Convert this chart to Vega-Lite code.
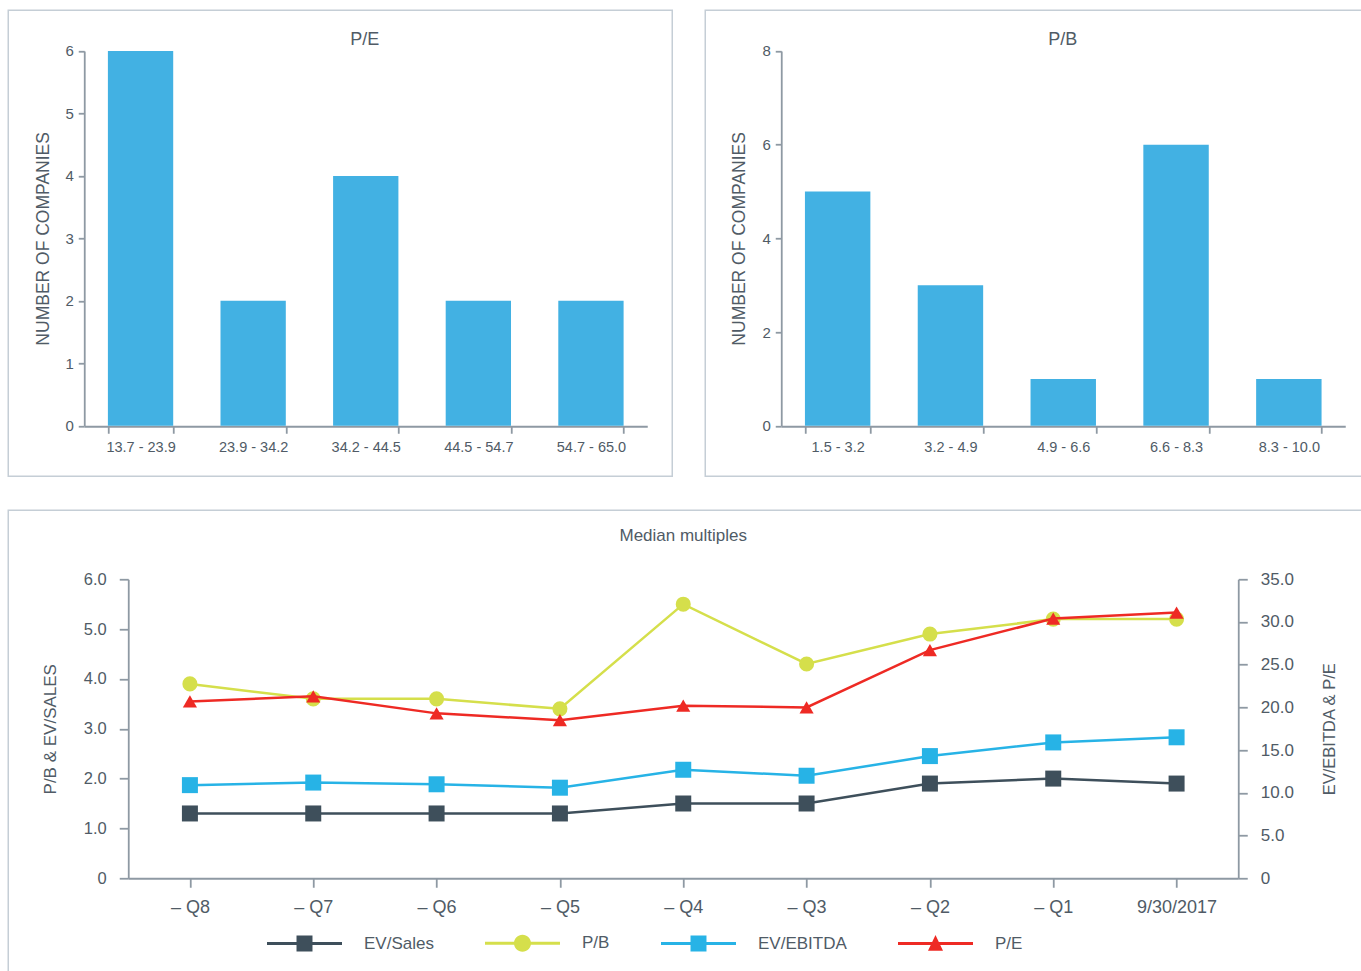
{
  "$schema": "https://vega.github.io/schema/vega-lite/v6.json",
  "padding": {"left": 7.25, "top": 9.25, "right": -3, "bottom": -3},
  "background": "white",
  "spacing": 32,
  "config": {
    "font": "Liberation Sans",
    "view": {"stroke": "#c5ced6", "strokeWidth": 1.5},
    "axis": {
      "domainColor": "#8e99a3", "tickColor": "#8e99a3", "domainWidth": 1.8, "tickWidth": 1.8,
      "labelColor": "#505b66", "titleColor": "#505b66", "titleFontWeight": "normal",
      "grid": false, "labelFont": "Liberation Sans", "titleFont": "Liberation Sans"
    },
    "title": {"font": "Liberation Sans", "fontWeight": "normal", "color": "#505b66", "baseline": "bottom", "anchor": "middle", "frame": "group"},
    "legend": {
      "orient": "none", "legendX": 258.75, "legendY": 895, "direction": "horizontal", "title": null,
      "symbolSize": 5625, "symbolStrokeWidth": 0, "symbolOpacity": 1,
      "labelFontSize": 17, "labelColor": "#505b66", "labelFont": "Liberation Sans",
      "labelOffset": 22, "columnPadding": 51, "labelLimit": 0
    }
  },
  "datasets": {
    "pe": [
      {"range": "13.7 - 23.9", "count": 6},
      {"range": "23.9 - 34.2", "count": 2},
      {"range": "34.2 - 44.5", "count": 4},
      {"range": "44.5 - 54.7", "count": 2},
      {"range": "54.7 - 65.0", "count": 2}
    ],
    "pb": [
      {"range": "1.5 - 3.2", "count": 5},
      {"range": "3.2 - 4.9", "count": 3},
      {"range": "4.9 - 6.6", "count": 1},
      {"range": "6.6 - 8.3", "count": 6},
      {"range": "8.3 - 10.0", "count": 1}
    ],
    "multiples": [
      {"quarter": "– Q8", "series": "EV/Sales", "value": 1.3},
      {"quarter": "– Q7", "series": "EV/Sales", "value": 1.3},
      {"quarter": "– Q6", "series": "EV/Sales", "value": 1.3},
      {"quarter": "– Q5", "series": "EV/Sales", "value": 1.3},
      {"quarter": "– Q4", "series": "EV/Sales", "value": 1.5},
      {"quarter": "– Q3", "series": "EV/Sales", "value": 1.5},
      {"quarter": "– Q2", "series": "EV/Sales", "value": 1.9},
      {"quarter": "– Q1", "series": "EV/Sales", "value": 2.0},
      {"quarter": "9/30/2017", "series": "EV/Sales", "value": 1.9},
      {"quarter": "– Q8", "series": "P/B", "value": 3.9},
      {"quarter": "– Q7", "series": "P/B", "value": 3.6},
      {"quarter": "– Q6", "series": "P/B", "value": 3.6},
      {"quarter": "– Q5", "series": "P/B", "value": 3.4},
      {"quarter": "– Q4", "series": "P/B", "value": 5.5},
      {"quarter": "– Q3", "series": "P/B", "value": 4.3},
      {"quarter": "– Q2", "series": "P/B", "value": 4.9},
      {"quarter": "– Q1", "series": "P/B", "value": 5.2},
      {"quarter": "9/30/2017", "series": "P/B", "value": 5.2},
      {"quarter": "– Q8", "series": "EV/EBITDA", "value": 10.9},
      {"quarter": "– Q7", "series": "EV/EBITDA", "value": 11.2},
      {"quarter": "– Q6", "series": "EV/EBITDA", "value": 11.0},
      {"quarter": "– Q5", "series": "EV/EBITDA", "value": 10.6},
      {"quarter": "– Q4", "series": "EV/EBITDA", "value": 12.7},
      {"quarter": "– Q3", "series": "EV/EBITDA", "value": 12.0},
      {"quarter": "– Q2", "series": "EV/EBITDA", "value": 14.3},
      {"quarter": "– Q1", "series": "EV/EBITDA", "value": 15.9},
      {"quarter": "9/30/2017", "series": "EV/EBITDA", "value": 16.5},
      {"quarter": "– Q8", "series": "P/E", "value": 20.7},
      {"quarter": "– Q7", "series": "P/E", "value": 21.3},
      {"quarter": "– Q6", "series": "P/E", "value": 19.3},
      {"quarter": "– Q5", "series": "P/E", "value": 18.5},
      {"quarter": "– Q4", "series": "P/E", "value": 20.2},
      {"quarter": "– Q3", "series": "P/E", "value": 20.0},
      {"quarter": "– Q2", "series": "P/E", "value": 26.7},
      {"quarter": "– Q1", "series": "P/E", "value": 30.4},
      {"quarter": "9/30/2017", "series": "P/E", "value": 31.1}
    ]
  },
  "vconcat": [
    {
      "spacing": 31,
      "hconcat": [
        {
          "width": 664, "height": 466,
          "data": {"name": "pe"},
          "title": {"text": "P/E", "fontSize": 18, "offset": -39, "dx": 24.5},
          "mark": {"type": "bar", "color": "#42b1e3"},
          "encoding": {
            "x": {"field": "range", "type": "nominal", "sort": null,
              "scale": {"range": [76, 639], "paddingInner": 0.42, "paddingOuter": 0.21},
              "axis": {"title": null, "orient": "bottom", "offset": -50, "tickBand": "extent", "tickSize": 7, "labelPadding": 7, "labelFontSize": 14.5, "labelAngle": 0}},
            "y": {"field": "count", "type": "quantitative",
              "scale": {"domain": [0, 6], "range": [415.5, 40.7], "nice": false},
              "axis": {"title": "NUMBER OF COMPANIES", "orient": "left", "offset": -76, "values": [0, 1, 2, 3, 4, 5, 6], "format": "d", "tickSize": 6, "labelPadding": 5, "labelFontSize": 15, "titleFontSize": 17.5, "titleX": -41, "titleBaseline": "middle"}}
          }
        },
        {
          "width": 658, "height": 466,
          "data": {"name": "pb"},
          "title": {"text": "P/B", "fontSize": 18, "offset": -39, "dx": 28.5},
          "mark": {"type": "bar", "color": "#42b1e3"},
          "encoding": {
            "x": {"field": "range", "type": "nominal", "sort": null,
              "scale": {"range": [76, 640], "paddingInner": 0.42, "paddingOuter": 0.21},
              "axis": {"title": null, "orient": "bottom", "offset": -50, "tickBand": "extent", "tickSize": 7, "labelPadding": 7, "labelFontSize": 14.5, "labelAngle": 0}},
            "y": {"field": "count", "type": "quantitative",
              "scale": {"domain": [0, 8], "range": [415.5, 40.7], "nice": false},
              "axis": {"title": "NUMBER OF COMPANIES", "orient": "left", "offset": -76, "values": [0, 2, 4, 6, 8], "format": "d", "tickSize": 6, "labelPadding": 5, "labelFontSize": 15, "titleFontSize": 17.5, "titleX": -42, "titleBaseline": "middle"}}
          }
        }
      ]
    },
    {
      "width": 1355, "height": 463,
      "data": {"name": "multiples"},
      "title": {"text": "Median multiples", "fontSize": 17, "offset": -35, "dx": -2.5},
      "encoding": {
        "x": {"field": "quarter", "type": "ordinal",
          "scale": {"type": "point", "domain": ["– Q8", "– Q7", "– Q6", "– Q5", "– Q4", "– Q3", "– Q2", "– Q1", "9/30/2017"], "range": [120, 1230], "padding": 0.5},
          "axis": {"title": null, "orient": "bottom", "offset": -95, "tickSize": 9, "labelPadding": 11.7, "labelFontSize": 18, "labelAngle": 0}}
      },
      "layer": [
        {
          "encoding": {
            "y": {"field": "value", "type": "quantitative",
              "scale": {"domain": [0, 6], "range": [368, 69], "nice": false},
              "axis": {"title": "P/B & EV/SALES", "orient": "left", "offset": -120, "values": [0, 1, 2, 3, 4, 5, 6], "labelExpr": "datum.value == 0 ? '0' : format(datum.value, '.1f')", "tickSize": 9, "labelPadding": 13, "labelFontSize": 16.5, "titleFontSize": 17, "titleX": -78, "titleBaseline": "middle"}}
          },
          "layer": [
            {"transform": [{"filter": "datum.series === 'P/B'"}], "mark": {"type": "line", "color": "#d5df4b", "strokeWidth": 2.5}},
            {"transform": [{"filter": "datum.series === 'EV/Sales'"}], "mark": {"type": "line", "color": "#3e4f5b", "strokeWidth": 2.5}},
            {"transform": [{"filter": "datum.series === 'P/B'"}], "mark": {"type": "circle", "color": "#d5df4b", "size": 227, "opacity": 1}},
            {"transform": [{"filter": "datum.series === 'EV/Sales'"}], "mark": {"type": "square", "color": "#3e4f5b", "size": 256, "opacity": 1}},
            {
              "transform": [{"filter": "datum.series === 'none'"}],
              "mark": {"type": "point", "filled": true, "size": 5625, "opacity": 1},
              "encoding": {
                "color": {"field": "series", "type": "nominal",
                  "scale": {"domain": ["EV/Sales", "P/B", "EV/EBITDA", "P/E"], "range": ["#3e4f5b", "#d5df4b", "#27b3e6", "#ee2a24"]}},
                "shape": {"field": "series", "type": "nominal",
                  "scale": {"domain": ["EV/Sales", "P/B", "EV/EBITDA", "P/E"], "range": [
                    "M-1,-0.037H1V0.037H-1ZM-0.213,-0.213H0.213V0.213H-0.213Z",
                    "M-1,-0.037H1V0.037H-1ZM0.227,0A0.227,0.227 0 1,1 -0.227,0A0.227,0.227 0 1,1 0.227,0Z",
                    "M-1,-0.037H1V0.037H-1ZM-0.213,-0.213H0.213V0.213H-0.213Z",
                    "M-1,-0.037H1V0.037H-1ZM0,-0.23L0.2,0.19H-0.2Z"
                  ]}}
              }
            }
          ]
        },
        {
          "encoding": {
            "y": {"field": "value", "type": "quantitative",
              "scale": {"domain": [0, 35], "range": [368, 69], "nice": false},
              "axis": {"title": "EV/EBITDA & P/E", "orient": "right", "offset": -125, "values": [0, 5, 10, 15, 20, 25, 30, 35], "labelExpr": "datum.value == 0 ? '0' : format(datum.value, '.1f')", "tickSize": 9, "labelPadding": 13, "labelFontSize": 17, "titleFontSize": 16.5, "titleX": 91.5, "titleAngle": 270, "titleBaseline": "middle"}}
          },
          "layer": [
            {"transform": [{"filter": "datum.series === 'EV/EBITDA'"}], "mark": {"type": "line", "color": "#27b3e6", "strokeWidth": 2.5}},
            {"transform": [{"filter": "datum.series === 'P/E'"}], "mark": {"type": "line", "color": "#ee2a24", "strokeWidth": 2.5}},
            {"transform": [{"filter": "datum.series === 'EV/EBITDA'"}], "mark": {"type": "square", "color": "#27b3e6", "size": 256, "opacity": 1}},
            {"transform": [{"filter": "datum.series === 'P/E'"}], "mark": {"type": "point", "shape": "triangle-up", "filled": true, "color": "#ee2a24", "size": 200, "opacity": 1}}
          ]
        }
      ],
      "resolve": {"scale": {"y": "independent"}}
    }
  ]
}
